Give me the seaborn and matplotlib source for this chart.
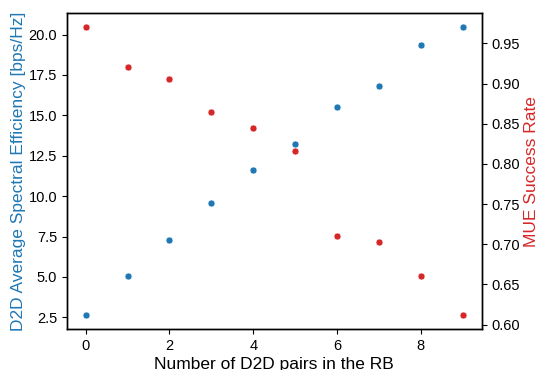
import matplotlib
matplotlib.use('Agg')
import matplotlib.pyplot as plt
import seaborn as sns

# data
n_pairs = [0, 1, 2, 3, 4, 5, 6, 7, 8, 9]
spectral_eff = [2.65, 5.05, 7.30, 9.60, 11.65, 13.20, 15.50, 16.80, 19.35, 20.45]
mue_success = [0.970, 0.921, 0.906, 0.864, 0.845, 0.816, 0.710, 0.703, 0.660, 0.612]

sns.set_style('ticks', {'axes.edgecolor': 'black', 'text.color': 'black',
                        'xtick.color': 'black', 'ytick.color': 'black',
                        'axes.labelcolor': 'black'})
plt.rcParams['font.family'] = ['Liberation Sans', 'DejaVu Sans']

fig, ax1 = plt.subplots(figsize=(5.35, 3.7), dpi=100)
fig.subplots_adjust(left=0.125, right=0.9, top=0.965, bottom=0.11)

sns.scatterplot(x=n_pairs, y=spectral_eff, color='tab:blue', s=25, ax=ax1)
ax1.set_xlabel('Number of D2D pairs in the RB', fontsize=12.5, labelpad=3)
ax1.set_ylabel('D2D Average Spectral Efficiency [bps/Hz]', color='tab:blue', fontsize=12.5, labelpad=2)
ax1.set_xticks([0, 2, 4, 6, 8])

ax2 = ax1.twinx()
sns.scatterplot(x=n_pairs, y=mue_success, color='tab:red', s=25, ax=ax2)
ax2.set_ylabel('MUE Success Rate', color='tab:red', fontsize=12.5, labelpad=3)

for ax in (ax1, ax2):
    ax.tick_params(labelsize=10.5, length=3.5, width=0.8, pad=3.5)
    for sp in ax.spines.values():
        sp.set_linewidth(1.0)

plt.savefig('out.png', dpi=100)
